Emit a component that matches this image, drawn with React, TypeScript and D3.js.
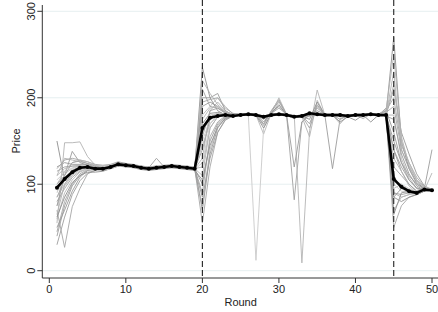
import * as d3 from "d3";

const rounds = d3.range(1, 51);
const xTicks = [0, 10, 20, 30, 40, 50];
const yTicks = [0, 100, 200, 300];
const breakRounds = [20, 45];

// average price per round (thick black line)
const meanPrice = [
  96, 106, 114, 119, 120, 118, 118, 120, 123, 122, 121, 119, 118, 119, 120, 121, 120, 119, 118,
  165, 177, 179, 180, 179, 180, 181, 180, 178, 180, 181, 180, 178, 179, 182, 181, 180, 180, 180, 179, 180, 180, 181, 180, 180,
  106, 97, 92, 90, 94, 93,
];

// individual sessions (thin grey lines)
const sessions = [
  [30, 62, 88, 104, 113, 116, 117, 119, 122, 122, 121, 119, 118, 119, 120, 121, 120, 119, 118, 100, 150, 170, 178, 179, 180, 181, 180, 178, 180, 181, 180, 178, 179, 182, 181, 180, 180, 180, 179, 180, 180, 181, 180, 180, 150, 125, 110, 100, 95, 93],
  [55, 148, 148, 149, 132, 122, 118, 120, 123, 122, 121, 119, 118, 119, 121, 121, 120, 119, 118, 130, 185, 195, 185, 180, 180, 181, 180, 176, 180, 181, 180, 178, 179, 182, 181, 180, 180, 180, 179, 180, 180, 181, 180, 180, 230, 140, 120, 105, 96, 93],
  [150, 105, 116, 120, 121, 119, 118, 121, 124, 123, 121, 120, 119, 120, 120, 121, 120, 119, 118, 235, 200, 185, 180, 180, 181, 181, 180, 178, 181, 181, 180, 178, 179, 181, 181, 180, 180, 180, 179, 180, 180, 181, 180, 181, 270, 150, 118, 102, 95, 93],
  [70, 27, 74, 95, 112, 116, 117, 120, 122, 122, 121, 119, 118, 119, 120, 121, 120, 119, 118, 55, 120, 160, 175, 179, 180, 181, 180, 177, 180, 181, 180, 178, 179, 181, 181, 180, 180, 180, 179, 180, 180, 181, 180, 180, 50, 75, 85, 88, 92, 93],
  [100, 110, 138, 125, 122, 119, 118, 120, 123, 122, 121, 119, 118, 119, 120, 121, 120, 119, 118, 200, 200, 205, 185, 180, 180, 181, 180, 170, 185, 198, 180, 178, 179, 181, 181, 180, 180, 180, 179, 180, 180, 181, 180, 180, 210, 160, 135, 112, 98, 94],
  [110, 118, 121, 122, 122, 119, 119, 121, 124, 122, 121, 119, 118, 119, 120, 121, 120, 119, 118, 180, 190, 200, 190, 181, 180, 181, 180, 158, 182, 200, 181, 178, 179, 181, 181, 180, 180, 180, 179, 180, 180, 181, 180, 180, 95, 100, 93, 90, 92, 93],
  [90, 112, 118, 121, 121, 118, 118, 120, 123, 122, 121, 119, 118, 119, 120, 121, 120, 119, 118, 150, 175, 180, 180, 180, 181, 180, 12, 165, 180, 195, 180, 178, 179, 181, 181, 180, 180, 180, 179, 180, 180, 181, 180, 180, 100, 92, 90, 88, 92, 93],
  [80, 95, 108, 115, 118, 117, 118, 120, 122, 121, 121, 120, 119, 130, 120, 121, 120, 119, 118, 160, 178, 182, 181, 180, 180, 181, 180, 176, 180, 182, 180, 82, 172, 181, 181, 180, 180, 180, 179, 180, 180, 181, 180, 180, 120, 110, 100, 92, 94, 93],
  [65, 100, 112, 118, 120, 118, 118, 120, 123, 122, 121, 119, 118, 119, 120, 121, 120, 119, 118, 120, 165, 178, 180, 180, 180, 181, 180, 178, 180, 181, 181, 180, 9, 162, 209, 180, 180, 180, 179, 180, 180, 181, 180, 180, 180, 130, 108, 95, 92, 93],
  [85, 105, 114, 119, 120, 118, 118, 120, 123, 122, 121, 119, 118, 119, 120, 121, 120, 119, 118, 140, 175, 180, 180, 180, 180, 181, 180, 178, 180, 181, 180, 120, 172, 180, 182, 180, 118, 176, 179, 180, 180, 181, 180, 180, 140, 115, 100, 92, 95, 140],
  [75, 98, 110, 117, 119, 118, 118, 120, 122, 122, 121, 119, 118, 119, 120, 121, 120, 119, 118, 110, 165, 178, 180, 180, 180, 181, 180, 178, 180, 181, 180, 178, 178, 155, 197, 180, 180, 170, 180, 180, 178, 181, 180, 180, 90, 85, 88, 90, 93, 93],
  [95, 108, 116, 120, 121, 119, 118, 121, 123, 122, 121, 119, 118, 119, 120, 121, 120, 119, 118, 170, 182, 183, 181, 180, 180, 181, 180, 165, 182, 192, 180, 178, 179, 175, 195, 180, 180, 172, 178, 174, 180, 172, 180, 180, 85, 80, 85, 88, 92, 93],
  [45, 80, 100, 112, 117, 118, 118, 120, 123, 122, 121, 119, 118, 119, 120, 121, 120, 119, 118, 90, 155, 172, 179, 180, 180, 181, 180, 178, 180, 181, 180, 178, 179, 165, 190, 180, 180, 175, 179, 180, 176, 181, 180, 185, 200, 145, 125, 108, 97, 93],
  [120, 125, 123, 123, 123, 120, 119, 121, 124, 123, 122, 120, 119, 120, 121, 122, 121, 120, 119, 190, 195, 190, 183, 181, 181, 182, 181, 172, 183, 190, 181, 179, 180, 180, 185, 181, 181, 181, 180, 181, 181, 182, 181, 185, 160, 125, 105, 96, 93, 93],
  [60, 90, 105, 114, 118, 117, 117, 119, 122, 121, 120, 118, 117, 118, 119, 120, 119, 118, 117, 75, 140, 168, 178, 179, 180, 180, 179, 177, 179, 180, 179, 177, 178, 180, 180, 179, 179, 179, 178, 179, 179, 180, 179, 179, 70, 85, 88, 90, 92, 92],
  [105, 114, 119, 121, 121, 119, 119, 121, 123, 122, 121, 119, 118, 119, 120, 121, 120, 119, 118, 165, 180, 182, 181, 180, 181, 181, 180, 178, 181, 181, 180, 178, 179, 181, 183, 180, 180, 180, 179, 180, 180, 181, 180, 180, 110, 95, 90, 88, 93, 94],
  [115, 120, 121, 121, 120, 118, 118, 120, 122, 121, 120, 118, 117, 118, 119, 120, 119, 118, 117, 210, 190, 188, 182, 181, 181, 182, 181, 168, 184, 196, 181, 178, 179, 170, 192, 180, 180, 180, 179, 180, 180, 181, 180, 188, 90, 88, 90, 89, 92, 93],
  [85, 100, 113, 118, 120, 118, 119, 121, 123, 122, 121, 119, 118, 119, 120, 121, 120, 119, 118, 145, 170, 179, 180, 180, 180, 181, 180, 178, 180, 181, 180, 178, 179, 181, 181, 180, 180, 180, 179, 180, 180, 181, 180, 180, 130, 115, 98, 90, 93, 113],
  [40, 75, 98, 110, 116, 117, 116, 118, 121, 121, 120, 118, 117, 118, 119, 120, 119, 118, 117, 85, 130, 160, 174, 179, 180, 180, 179, 177, 179, 180, 179, 177, 178, 180, 180, 179, 179, 179, 178, 179, 179, 180, 179, 179, 175, 135, 112, 98, 93, 92],
  [110, 130, 128, 126, 124, 122, 121, 122, 125, 124, 122, 121, 120, 121, 121, 122, 121, 120, 119, 220, 205, 192, 184, 181, 181, 182, 181, 179, 181, 182, 181, 179, 180, 182, 182, 181, 181, 181, 180, 181, 181, 182, 181, 186, 250, 155, 122, 104, 96, 94],
  [62, 85, 102, 110, 114, 114, 115, 118, 121, 120, 119, 117, 116, 117, 118, 119, 118, 117, 116, 105, 145, 166, 176, 179, 180, 180, 179, 177, 179, 180, 179, 177, 178, 180, 180, 179, 179, 179, 178, 179, 179, 180, 179, 179, 65, 90, 92, 91, 93, 93],
  [118, 128, 130, 128, 126, 123, 122, 123, 126, 124, 123, 121, 120, 121, 122, 123, 122, 121, 120, 195, 198, 200, 188, 182, 181, 182, 181, 175, 182, 188, 181, 179, 180, 178, 188, 181, 181, 178, 180, 181, 179, 182, 181, 183, 190, 140, 118, 100, 94, 93],
  [50, 70, 92, 108, 116, 118, 118, 120, 123, 122, 121, 119, 118, 119, 120, 121, 120, 119, 118, 70, 135, 165, 177, 179, 180, 181, 180, 178, 180, 181, 180, 178, 179, 181, 181, 180, 180, 180, 179, 180, 180, 181, 180, 180, 85, 95, 92, 90, 93, 93],
  [100, 115, 125, 128, 126, 122, 120, 121, 124, 123, 121, 119, 118, 119, 120, 121, 120, 119, 118, 175, 188, 190, 184, 180, 181, 181, 180, 178, 181, 181, 180, 178, 179, 181, 181, 180, 180, 180, 179, 180, 180, 181, 180, 182, 215, 150, 125, 105, 96, 94],
  [92, 104, 112, 116, 117, 116, 116, 118, 121, 121, 120, 118, 117, 118, 119, 120, 119, 118, 117, 125, 170, 180, 181, 180, 180, 181, 180, 178, 180, 181, 180, 178, 179, 181, 181, 180, 180, 180, 179, 180, 180, 181, 180, 180, 105, 100, 95, 91, 93, 93],
  [75, 110, 125, 127, 124, 121, 119, 120, 124, 123, 121, 119, 118, 119, 120, 121, 120, 119, 118, 155, 185, 188, 183, 180, 180, 181, 180, 178, 180, 181, 180, 178, 179, 181, 181, 180, 180, 180, 179, 180, 180, 181, 180, 180, 140, 120, 105, 95, 94, 93],
];

const sessionColors = ["#9c9c9c", "#b2b2b2", "#8e8e8e", "#a6a6a6", "#9a9a9a", "#b8b8b8", "#cacaca", "#a0a0a0", "#b4b4b4"];

const W = 438;
const H = 312;

export default function App() {
  const x = d3.scaleLinear().domain([0, 50]).range([49.3, 432]);
  const y = d3.scaleLinear().domain([0, 300]).range([270.7, 11.3]);
  const axisX = 42.3;
  const axisY = 278;

  const line = d3
    .line<number>()
    .x((_, i) => x(rounds[i]))
    .y((d) => y(d));

  const font = "'Liberation Sans', Arial, sans-serif";

  return (
    <svg
      width={W}
      height={H}
      style={{ position: "fixed", left: 0, top: 0, background: "#fff" }}
      fontFamily={font}
    >
      {/* grid */}
      {yTicks.map((t) => (
        <line key={"g" + t} x1={axisX} x2={W} y1={y(t)} y2={y(t)} stroke="#e6eff0" strokeWidth={1} />
      ))}

      {/* sessions */}
      <g fill="none" strokeWidth={0.9} strokeLinejoin="round">
        {sessions.map((s, i) => (
          <path key={i} d={line(s) ?? ""} stroke={sessionColors[i % sessionColors.length]} />
        ))}
      </g>

      {/* treatment breaks */}
      {breakRounds.map((r) => (
        <line
          key={"b" + r}
          x1={x(r)}
          x2={x(r)}
          y1={0}
          y2={axisY}
          stroke="#222"
          strokeWidth={1.1}
          strokeDasharray="6,3"
        />
      ))}

      {/* mean */}
      <path d={line(meanPrice) ?? ""} fill="none" stroke="#000" strokeWidth={2.6} strokeLinejoin="round" />
      {meanPrice.map((v, i) => (
        <circle key={"m" + i} cx={x(rounds[i])} cy={y(v)} r={2} fill="#000" />
      ))}

      {/* axes */}
      <line x1={axisX} x2={axisX} y1={5} y2={axisY} stroke="#333" strokeWidth={1} />
      <line x1={axisX} x2={W} y1={axisY} y2={axisY} stroke="#333" strokeWidth={1} />
      {yTicks.map((t) => (
        <g key={"yt" + t}>
          <line x1={axisX - 5} x2={axisX} y1={y(t)} y2={y(t)} stroke="#333" />
          <text
            transform={`translate(34.5,${y(t)}) rotate(-90)`}
            textAnchor="middle"
            fontSize={11}
            fill="#222"
          >
            {t}
          </text>
        </g>
      ))}
      {xTicks.map((t) => (
        <g key={"xt" + t}>
          <line x1={x(t)} x2={x(t)} y1={axisY} y2={axisY + 5} stroke="#333" />
          <text x={x(t)} y={293} textAnchor="middle" fontSize={11} fill="#222">
            {t}
          </text>
        </g>
      ))}
      <text x={(x(0) + x(50)) / 2} y={306} textAnchor="middle" fontSize={11} fill="#222">
        Round
      </text>
      <text
        transform={`translate(20,${(y(0) + y(300)) / 2}) rotate(-90)`}
        textAnchor="middle"
        fontSize={11}
        fill="#222"
      >
        Price
      </text>
    </svg>
  );
}
